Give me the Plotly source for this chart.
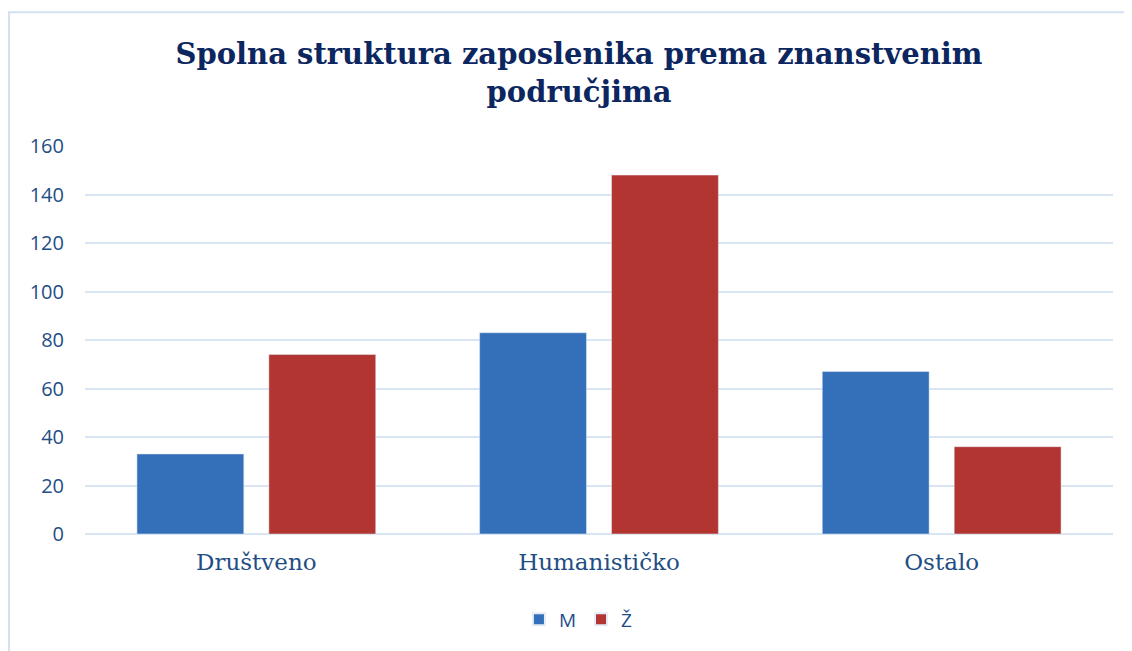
import plotly.graph_objects as go

categories = ["Društveno", "Humanističko", "Ostalo"]
musko = [33, 83, 67]
zensko = [74, 148, 36]
y_ticks = [0, 20, 40, 60, 80, 100, 120, 140, 160]

fig = go.Figure()
fig.add_trace(go.Bar(name="M", x=categories, y=musko, marker_color="#3470b9"))
fig.add_trace(go.Bar(name="Ž", x=categories, y=zensko, marker_color="#b23532"))

# page has an 8px body margin, so the figure is a bit smaller than the window
fig.update_layout(
    width=1124, height=643,
    margin=dict(l=77, r=19, t=138, b=117),
    paper_bgcolor="white", plot_bgcolor="white",
    barmode="group", bargap=0.23, bargroupgap=0.19,
    title=dict(
        text="<b>Spolna struktura zaposlenika prema znanstvenim<br>područjima</b>",
        x=0.508, xanchor="center", y=0.913, yanchor="top",
        font=dict(family="DejaVu Serif", size=29, color="#0c2660"),
    ),
    legend=dict(
        orientation="h", x=0.48, xanchor="center", y=-0.22, yanchor="middle",
        font=dict(family="Open Sans", size=19, color="#1f4e85"),
        itemwidth=30, itemsizing="constant",
    ),
    shapes=[dict(
        type="rect", xref="paper", yref="paper",
        x0=-0.0739, x1=1.2, y0=-0.6, y1=1.345,
        line=dict(color="#d3e1f2", width=2), layer="below",
    )],
)
fig.update_yaxes(
    range=[0, 160], tickvals=y_ticks, showgrid=True, gridcolor="#d9e5f3", gridwidth=2,
    zeroline=True, zerolinecolor="#d9e5f3", zerolinewidth=2,
    tickfont=dict(family="Open Sans", size=20, color="#1f4e85"),
    ticklabelstandoff=20,
)
fig.update_xaxes(
    tickfont=dict(family="DejaVu Serif", size=23, color="#1f4e85"),
    ticklabelstandoff=12, showline=False,
)

fig.write_html("out.html")
